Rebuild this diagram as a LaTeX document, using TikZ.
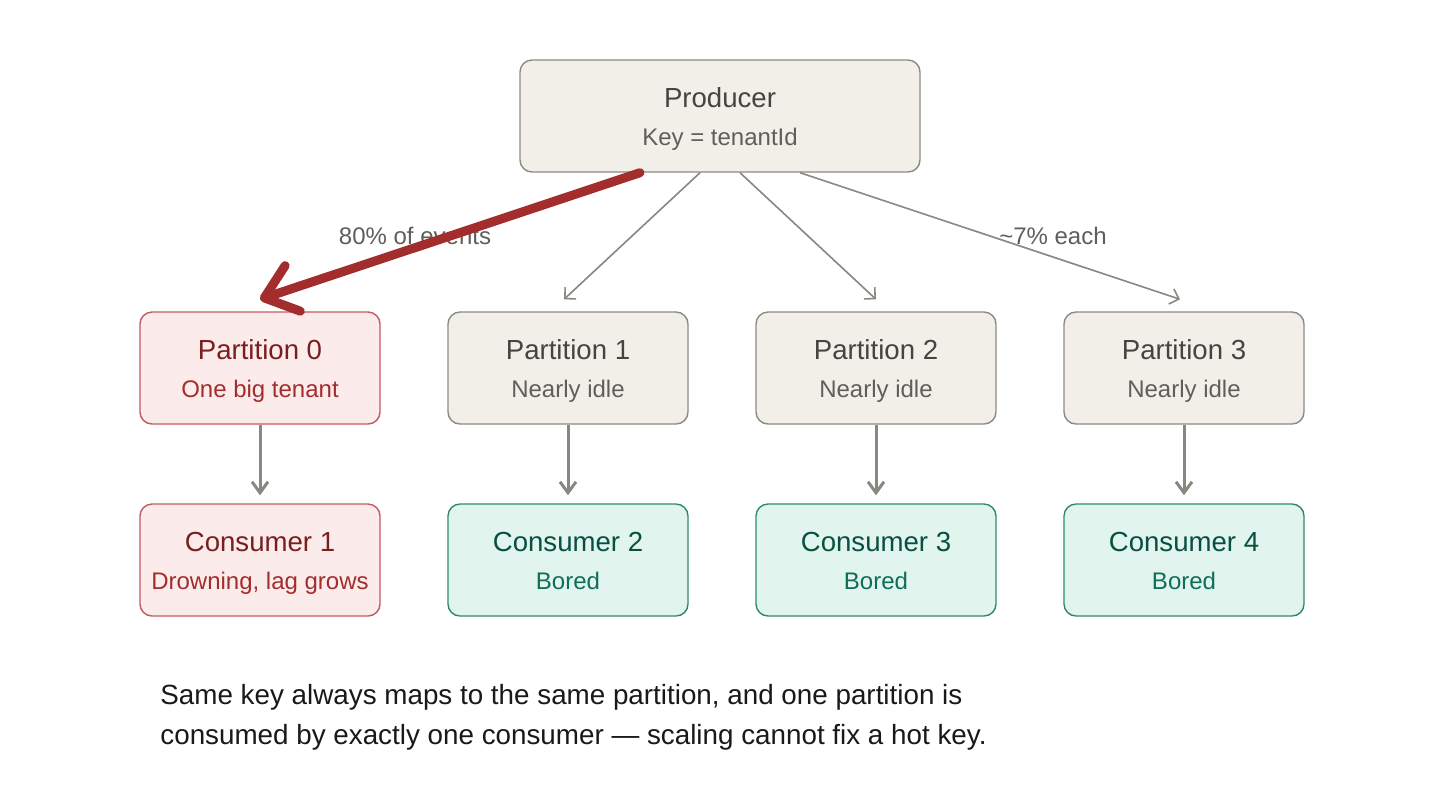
\documentclass[tikz,border=0pt]{standalone}
\usepackage{fontspec}
\setmainfont{Liberation Sans}
\usetikzlibrary{positioning, arrows.meta}

\definecolor{sandfill}{HTML}{F1EFE8}
\definecolor{sandline}{HTML}{8C8A84}
\definecolor{sandttl}{HTML}{444441}
\definecolor{sandsub}{HTML}{5F5E5A}
\definecolor{hotfill}{HTML}{FCEBEB}
\definecolor{hotline}{HTML}{C25A60}
\definecolor{hotttl}{HTML}{791F1F}
\definecolor{hotsub}{HTML}{A32D2D}
\definecolor{coolfill}{HTML}{E1F5EE}
\definecolor{coolline}{HTML}{2F8A6C}
\definecolor{coolttl}{HTML}{085041}
\definecolor{coolsub}{HTML}{0F6E56}
\definecolor{flowgray}{HTML}{888780}

\newcommand{\boxtitle}[2]{{\color{#1}\fontsize{13.8pt}{19pt}\selectfont #2}}

\begin{document}
\begin{tikzpicture}[
        x=0.5pt, y=-0.5pt,
        box/.style={rectangle, rounded corners=6pt, draw, line width=0.7pt, minimum width=120pt, minimum height=56pt,
            inner sep=0pt, align=center, text height=33pt, text depth=4pt, font=\fontsize{12pt}{19pt}\selectfont},
        sandbox/.style={box, fill=sandfill, draw=sandline, text=sandsub},
        hotbox/.style={box, fill=hotfill, draw=hotline, text=hotsub},
        coolbox/.style={box, fill=coolfill, draw=coolline, text=coolsub},
        flow/.style={draw=flowgray, line width=0.8pt, -{Straight Barb[length=4pt, width=8pt]}},
        drop/.style={draw=flowgray, line width=1.5pt, -{Straight Barb[length=5.5pt, width=8pt]}},
        hotflow/.style={draw=hotsub, line width=4.5pt, line cap=round, -{Straight Barb[length=15pt, width=24pt, round]}},
        elabel/.style={text=sandsub, font=\fontsize{12pt}{14pt}\selectfont, inner sep=0pt}
    ]
    \fill[white] (0,0) rectangle (1440,800);
    \useasboundingbox (0,0) rectangle (1440,800);

    \node[sandbox, minimum width=200pt] (prod) at (720,116) {\boxtitle{sandttl}{Producer}\\ Key = tenantId};

    \node[hotbox] (p0) at (260,368) {\boxtitle{hotttl}{Partition 0}\\ One big tenant};
    \node[sandbox, right=33.3pt of p0] (p1) {\boxtitle{sandttl}{Partition 1}\\ Nearly idle};
    \node[sandbox, right=33.3pt of p1] (p2) {\boxtitle{sandttl}{Partition 2}\\ Nearly idle};
    \node[sandbox, right=33.3pt of p2] (p3) {\boxtitle{sandttl}{Partition 3}\\ Nearly idle};

    \node[hotbox, below=39.3pt of p0] (c1) {\boxtitle{hotttl}{Consumer 1}\\ Drowning, lag grows};
    \node[coolbox, below=39.3pt of p1] (c2) {\boxtitle{coolttl}{Consumer 2}\\ Bored};
    \node[coolbox, below=39.3pt of p2] (c3) {\boxtitle{coolttl}{Consumer 3}\\ Bored};
    \node[coolbox, below=39.3pt of p3] (c4) {\boxtitle{coolttl}{Consumer 4}\\ Bored};

    \node[elabel] (hotlbl) at (415,236) {80\% of events};
    \node[elabel] (restlbl) at (1053,236) {\textasciitilde7\% each};

    \draw[hotflow] ([xshift=-40pt]prod.south) -- ([yshift=6pt]p0.north);
    \draw[flow] ([xshift=-10pt]prod.south) -- ([xshift=-2pt, yshift=6pt]p1.north);
    \draw[flow] ([xshift=10pt]prod.south) -- ([yshift=6pt]p2.north);
    \draw[flow] ([xshift=40pt]prod.south) -- ([xshift=-2pt, yshift=6pt]p3.north);

    \foreach \p/\c in {p0/c1, p1/c2, p2/c3, p3/c4}
        \draw[drop] (\p.south) -- ([yshift=4pt]\c.north);

    \node[anchor=base west, align=left, inner sep=0pt, text=black!90, font=\fontsize{13.9pt}{20pt}\selectfont] (note) at (160,744)
        {Same key always maps to the same partition, and one partition is\\
         consumed by exactly one consumer — scaling cannot fix a hot key.};
\end{tikzpicture}
\end{document}
